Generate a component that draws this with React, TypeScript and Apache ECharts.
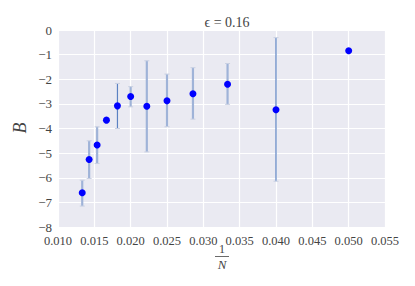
import React, { useEffect, useRef } from "react";
import * as echarts from "echarts";

const invN = [1 / 75, 1 / 70, 1 / 65, 1 / 60, 1 / 55, 1 / 50, 1 / 45, 1 / 40, 1 / 35, 1 / 30, 1 / 25, 1 / 20];
const bValues = [-6.61, -5.26, -4.67, -3.66, -3.08, -2.7, -3.1, -2.87, -2.59, -2.2, -3.24, -0.84];
const errTop = [-6.1, -4.5, -3.93, -3.66, -2.17, -2.3, -1.25, -1.79, -1.53, -1.36, -0.31, -0.84];
const errBottom = [-7.15, -6.03, -5.42, -3.66, -4.0, -3.12, -4.95, -3.93, -3.62, -3.02, -6.14, -0.84];
const errThin = [false, false, false, false, true, false, false, false, false, false, true, false];
const xTicks = [0.01, 0.015, 0.02, 0.025, 0.03, 0.035, 0.04, 0.045, 0.05, 0.055];
const yTicks = [-8, -7, -6, -5, -4, -3, -2, -1, 0];

const FONT = "'Liberation Serif', 'DejaVu Serif', serif";

export default function App() {
  const ref = useRef<HTMLDivElement>(null);
  useEffect(() => {
    if (!ref.current) return;
    const chart = echarts.init(ref.current, undefined, { renderer: "svg" });
    const errData = invN.map((x, i) => [x, errTop[i], errBottom[i], errThin[i] ? 1 : 0]);
    chart.setOption({
      animation: false,
      backgroundColor: "#ffffff",
      grid: {
        left: 58,
        right: 30,
        top: 30,
        bottom: 59,
        show: true,
        backgroundColor: "#EAEAF2",
        borderWidth: 0,
      },
      title: {
        text: "ϵ = 0.16",
        left: 222,
        textAlign: "center",
        top: 10,
        textStyle: { fontFamily: FONT, fontSize: 14, fontWeight: "normal", color: "#444" },
      },
      xAxis: {
        type: "value",
        min: xTicks[0],
        max: xTicks[xTicks.length - 1],
        interval: 0.005,
        axisLine: { show: false },
        axisTick: { show: false },
        splitLine: { show: true, lineStyle: { color: "#ffffff", width: 1.2 } },
        axisLabel: {
          fontFamily: FONT,
          fontSize: 12.5,
          color: "#444",
          margin: 7,
          formatter: (v: number) => v.toFixed(3),
        },
      },
      yAxis: {
        type: "value",
        min: yTicks[0],
        max: yTicks[yTicks.length - 1],
        interval: 1,
        axisLine: { show: false },
        axisTick: { show: false },
        splitLine: { show: true, lineStyle: { color: "#ffffff", width: 1.2 } },
        axisLabel: {
          fontFamily: FONT,
          fontSize: 13,
          color: "#444",
          margin: 6,
          formatter: (v: number) => (v < 0 ? "\u2212" + Math.abs(v) : String(v)),
        },
      },
      graphic: [
        {
          type: "text",
          x: 20,
          y: 128,
          rotation: Math.PI / 2,
          style: {
            text: "B",
            fontFamily: FONT,
            fontStyle: "italic",
            fontSize: 18,
            fill: "#444",
            align: "center",
            verticalAlign: "middle",
          },
        },
        {
          type: "text",
          x: 222,
          y: 249,
          style: { text: "1", fontFamily: FONT, fontSize: 12, fill: "#444", align: "center", verticalAlign: "middle" },
        },
        {
          type: "line",
          shape: { x1: 215, y1: 256.5, x2: 229, y2: 256.5 },
          style: { stroke: "#444", lineWidth: 0.8 },
        },
        {
          type: "text",
          x: 222,
          y: 264,
          style: {
            text: "N",
            fontFamily: FONT,
            fontStyle: "italic",
            fontSize: 13,
            fill: "#444",
            align: "center",
            verticalAlign: "middle",
          },
        },
      ],
      series: [
        {
          type: "custom",
          data: errData,
          z: 2,
          renderItem: (params: any, api: any) => {
            const x = api.value(0);
            const top = api.coord([x, api.value(1)]);
            const bot = api.coord([x, api.value(2)]);
            const thin = api.value(3) === 1;
            if (Math.abs(top[1] - bot[1]) < 1) return null;
            const color = thin ? "#5B81C2" : "#9FB3D8";
            const w = thin ? 1.2 : 2.2;
            const capColor = "#C9D0E2";
            return {
              type: "group",
              children: [
                { type: "line", shape: { x1: top[0], y1: top[1], x2: bot[0], y2: bot[1] }, style: { stroke: color, lineWidth: w } },
                { type: "line", shape: { x1: top[0] - 2.5, y1: top[1], x2: top[0] + 2.5, y2: top[1] }, style: { stroke: capColor, lineWidth: 1 } },
                { type: "line", shape: { x1: bot[0] - 2.5, y1: bot[1], x2: bot[0] + 2.5, y2: bot[1] }, style: { stroke: capColor, lineWidth: 1 } },
              ],
            };
          },
        },
        {
          type: "scatter",
          data: invN.map((x, i) => [x, bValues[i]]),
          symbol: "circle",
          symbolSize: 7,
          itemStyle: { color: "#0000FF", opacity: 1 },
          z: 3,
        },
      ],
    });
    return () => chart.dispose();
  }, []);
  return <div ref={ref} style={{ width: 415, height: 286, margin: -8 }} />;
}
